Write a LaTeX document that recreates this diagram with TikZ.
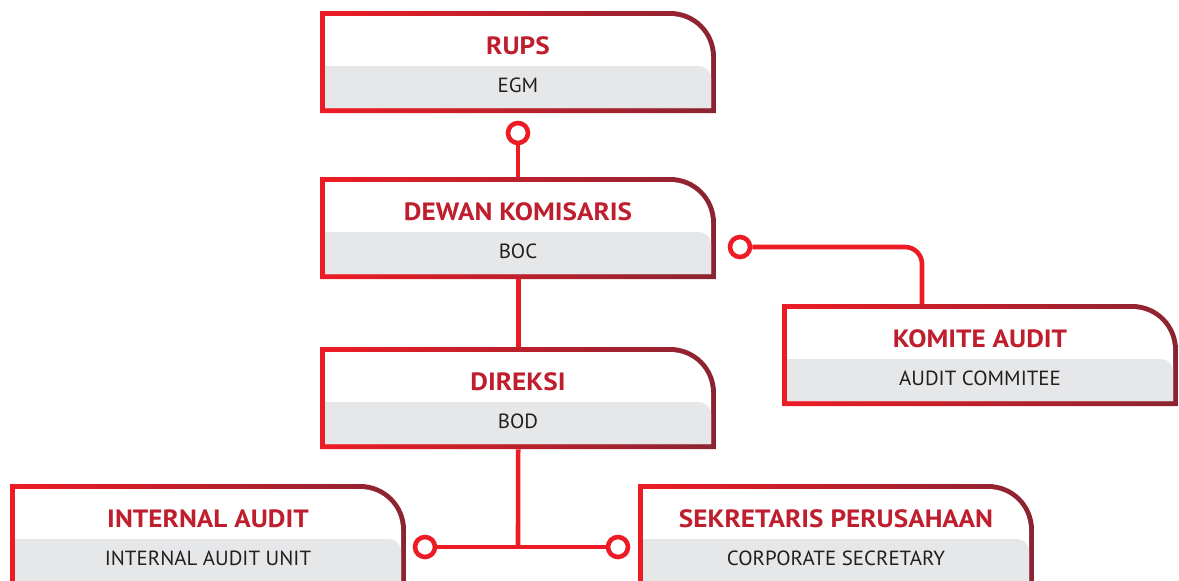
\documentclass[tikz,border=0pt]{standalone}
\usepackage{fontspec}
\setmainfont{PT Sans}
\newfontfamily\titlefont[FakeStretch=1.09]{PT Sans}
\newfontfamily\subfont[FakeStretch=1.02]{PT Sans}
\definecolor{myred}{HTML}{ED1C24}
\definecolor{mymaroon}{HTML}{8A2432}
\definecolor{titlered}{HTML}{BE1E2D}
\definecolor{bandgrey}{HTML}{E6E7E8}
\definecolor{subtext}{HTML}{231F20}
\tikzset{
  conn/.style={draw=myred, line width=4.6pt},
  dot/.style={circle, draw=myred, line width=4.6pt, fill=white, minimum size=20pt, inner sep=0pt},
  titletext/.style={font=\titlefont\fontsize{25}{25}\selectfont\bfseries, text=titlered, anchor=base, inner sep=0pt},
  subtitletext/.style={font=\subfont\fontsize{20.5}{20.5}\selectfont, text=subtext, anchor=base, inner sep=0pt},
}
% #1 name, #2 x0, #3 y0, #4 title, #5 subtitle
\newcommand\orgbox[5]{%
  \shade[left color=myred, right color=mymaroon]
    (#2,#3+102) -- (#2,#3) -- (#2+396-46,#3)
    .. controls (#2+396-20.6,#3) and (#2+396,#3+20.6) .. (#2+396,#3+46)
    -- (#2+396,#3+102) -- cycle;
  \fill[white]
    (#2+5,#3+97) -- (#2+5,#3+5) -- (#2+391-41,#3+5)
    .. controls (#2+391-18.4,#3+5) and (#2+391,#3+22.6) .. (#2+391,#3+46)
    -- (#2+391,#3+97) -- cycle;
  \fill[bandgrey]
    (#2+5,#3+97) -- (#2+5,#3+55) -- (#2+391-12,#3+55)
    .. controls (#2+391-5.4,#3+55) and (#2+391,#3+60.4) .. (#2+391,#3+67)
    -- (#2+391,#3+97) -- cycle;
  \node[minimum width=396pt, minimum height=102pt, inner sep=0pt, anchor=north west] (#1) at (#2,#3) {};
  \node[titletext] (#1-t) at (#2+198,#3+43.5) {#4};
  \node[subtitletext] (#1-s) at (#2+198,#3+81.5) {#5};
}
\begin{document}
\begin{tikzpicture}[x=1pt, y=-1pt]
\useasboundingbox (0,0) rectangle (1179,581);
\clip (0,0) rectangle (1179,581);
\orgbox{rups}{320}{11}{RUPS}{EGM}
\orgbox{boc}{320}{177}{DEWAN KOMISARIS}{BOC}
\orgbox{bod}{320}{347}{DIREKSI}{BOD}
\orgbox{komite}{782}{304}{KOMITE AUDIT}{AUDIT COMMITEE}
\orgbox{ia}{10}{484}{INTERNAL AUDIT}{INTERNAL AUDIT UNIT}
\orgbox{cs}{638}{484}{SEKRETARIS PERUSAHAAN}{CORPORATE SECRETARY}
\node[dot] (c1) at (518,133) {};
\node[dot] (c2) at (740,247) {};
\node[dot] (c3) at (425,547) {};
\node[dot] (c4) at (618,547) {};
\coordinate (kt) at (922,304);
\coordinate (jn) at (518,547);
\draw[conn] (c1.south) -- (c1.south |- boc.north);
\draw[conn] (boc.south) -- (bod.north);
\draw[conn, rounded corners=17pt] (c2.east) -| (kt);
\draw[conn] (bod.south) -- (jn);
\draw[conn] (c3.east) -- (c4.west);
\end{tikzpicture}
\end{document}
